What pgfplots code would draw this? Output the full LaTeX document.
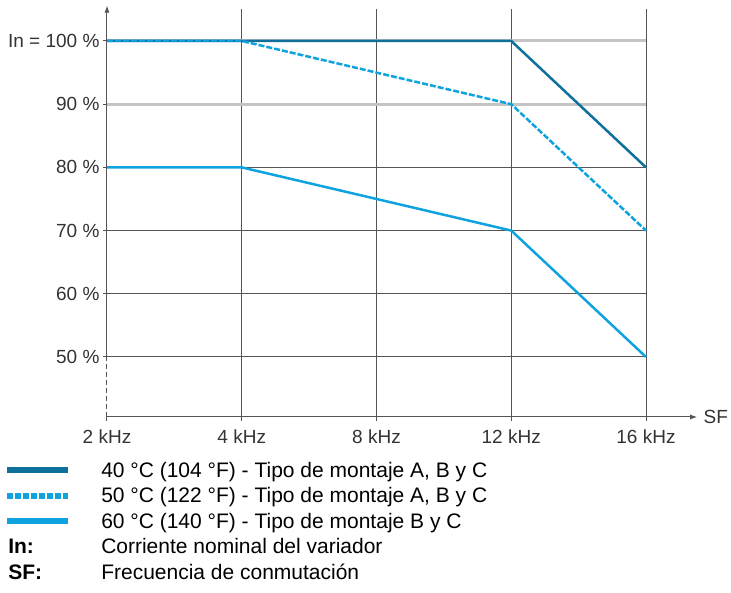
\documentclass[border=0pt]{standalone}
\usepackage{pgfplots}
\pgfplotsset{compat=1.18}
\usepackage{fontspec}
\setmainfont{Liberation Sans}
\usetikzlibrary{arrows.meta}

\definecolor{dkblue}{RGB}{16,112,156}
\definecolor{ltblue}{RGB}{14,163,222}
\definecolor{gridgray}{RGB}{85,85,85}
\definecolor{lightgrid}{RGB}{196,196,196}

\begin{document}
\begin{tikzpicture}[x=1pt,y=1pt]
  % fixed page: 731 x 593, origin at (2 kHz, bottom of axis)
  \useasboundingbox (-107,-176) rectangle (624,417);
  \begin{axis}[
      scale only axis,
      width=539pt, height=407.6pt,
      xmin=0, xmax=4, ymin=40.5, ymax=105,
      clip=false,
      axis line style={draw=none},
      tick align=outside,
      major tick length=4pt,
      tick style={gridgray, line width=1pt},
      xtick pos=bottom, ytick pos=left,
      xtick={1,2,3,4},
      xticklabels={4 kHz,8 kHz,12 kHz,16 kHz},
      extra x ticks={0},
      extra x tick labels={2 kHz},
      extra x tick style={grid=none},
      ytick={50,60,70,80},
      yticklabels={50 \%,60 \%,70 \%,80 \%},
      extra y ticks={90,100},
      extra y tick labels={90 \%,In = 100 \%},
      extra y tick style={grid=major, major grid style={lightgrid, line width=3pt}},
      xmajorgrids, ymajorgrids,
      major grid style={gridgray, line width=1pt},
      ticklabel style={font=\fontsize{19}{22}\selectfont, text=black!80},
      xticklabel style={yshift=-5pt},
      legend style={
        at={(-0.191,-0.1055)}, anchor=north west,
        draw=none, fill=none, inner sep=0pt,
        font=\fontsize{21}{25}\selectfont,
        cells={anchor=west, text height=15pt, text depth=5pt},
        row sep=5pt,
        /tikz/every odd column/.append style={column sep=28pt},
      },
      legend image code/.code={
        \draw[#1, line width=6pt] (0pt,0pt) -- (61pt,0pt);
      },
    ]
    \addplot[dkblue, line width=2.5pt] coordinates {
      (0,100) (1,100) (2,100) (3,100) (4,80)
    };
    \addlegendentry{40 °C (104 °F) - Tipo de montaje A, B y C}
    \addplot[ltblue, line width=2.5pt, dash pattern=on 6pt off 2pt] coordinates {
      (0,100) (1,100) (2,95) (3,90) (4,70)
    };
    \addlegendentry{50 °C (122 °F) - Tipo de montaje A, B y C}
    \addplot[ltblue, line width=2.5pt] coordinates {
      (0,80) (1,80) (2,75) (3,70) (4,50)
    };
    \addlegendentry{60 °C (140 °F) - Tipo de montaje B y C}
    \addlegendimage{empty legend}
    \addlegendentry{\llap{\makebox[93pt][l]{\bfseries In:}}Corriente nominal del variador}
    \addlegendimage{empty legend}
    \addlegendentry{\llap{\makebox[93pt][l]{\bfseries SF:}}Frecuencia de conmutación}

    % axes with arrows, dashed break below 50 %
    \draw[gridgray, line width=1pt, -{Latex[length=7pt,width=5pt]}]
      (axis cs:0,50) -- (axis cs:0,105.6);
    \draw[gridgray, line width=1pt, dash pattern=on 5pt off 3pt]
      (axis cs:0,40.5) -- (axis cs:0,50);
    \draw[gridgray, line width=1pt, -{Latex[length=7pt,width=5pt]}]
      (axis cs:0,40.5) -- (axis cs:4.38,40.5)
      node[right, inner sep=6pt, font=\fontsize{19}{22}\selectfont, text=black!80] {SF};
  \end{axis}
\end{tikzpicture}
\end{document}
